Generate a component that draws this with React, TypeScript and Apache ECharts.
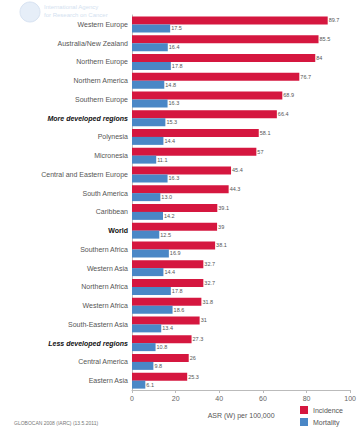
import React, { useEffect, useRef } from "react";
import * as echarts from "echarts";

const categories = [
  "Western Europe",
  "Australia/New Zealand",
  "Northern Europe",
  "Northern America",
  "Southern Europe",
  "More developed regions",
  "Polynesia",
  "Micronesia",
  "Central and Eastern Europe",
  "South America",
  "Caribbean",
  "World",
  "Southern Africa",
  "Western Asia",
  "Northern Africa",
  "Western Africa",
  "South-Eastern Asia",
  "Less developed regions",
  "Central America",
  "Eastern Asia",
];
const incidence = [89.7, 85.5, 84, 76.7, 68.9, 66.4, 58.1, 57, 45.4, 44.3, 39.1, 39, 38.1, 32.7, 32.7, 31.8, 31, 27.3, 26, 25.3];
const mortality = [17.5, 16.4, 17.8, 14.8, 16.3, 15.3, 14.4, 11.1, 16.3, 13.0, 14.2, 12.5, 16.9, 14.4, 17.8, 18.6, 13.4, 10.8, 9.8, 6.1];
const xTicks = [0, 20, 40, 60, 80, 100];

const boldItalic = ["More developed regions", "Less developed regions"];
const bold = ["World"];

export default function App() {
  const ref = useRef<HTMLDivElement>(null);
  useEffect(() => {
    if (!ref.current) return;
    const chart = echarts.init(ref.current, null, { renderer: "svg" });
    const font = "Liberation Sans, Arial, sans-serif";
    chart.setOption({
      animation: false,
      textStyle: { fontFamily: font },
      grid: { left: 132, right: 7, top: 15, bottom: 45, containLabel: false },
      legend: {
        data: ["Incidence", "Mortality"],
        orient: "vertical",
        left: 300,
        top: 406,
        padding: 0,
        itemWidth: 8,
        itemHeight: 8,
        itemGap: 4,
        icon: "rect",
        textStyle: { fontSize: 7, color: "#555", fontFamily: font },
      },
      xAxis: {
        type: "value",
        min: xTicks[0],
        max: xTicks[xTicks.length - 1],
        interval: 20,
        name: "ASR (W) per 100,000",
        nameLocation: "middle",
        nameGap: 22,
        nameTextStyle: { fontSize: 7, color: "#555" },
        axisLine: { show: true, lineStyle: { color: "#bbb" } },
        axisTick: { show: true, length: 3, lineStyle: { color: "#bbb" } },
        axisLabel: { fontSize: 7, color: "#666", margin: 5 },
        splitLine: { show: false },
      },
      yAxis: {
        type: "category",
        data: categories,
        inverse: true,
        axisLine: { show: true, lineStyle: { color: "#bbb" } },
        axisTick: { show: false },
        axisLabel: {
          fontSize: 7,
          color: "#555",
          margin: 4,
          formatter: (v: string) =>
            boldItalic.includes(v) ? `{bi|${v}}` : bold.includes(v) ? `{b|${v}}` : v,
          rich: {
            bi: { fontSize: 7, fontWeight: "bold", fontStyle: "italic", color: "#111" },
            b: { fontSize: 7, fontWeight: "bold", color: "#111" },
          },
        },
      },
      series: [
        {
          name: "Incidence",
          type: "bar",
          data: incidence,
          barWidth: 8,
          barGap: "0%",
          itemStyle: { color: "#d5173f" },
          label: {
            show: true,
            position: "right",
            distance: 1,
            fontSize: 5.5,
            color: "#555",
            formatter: (p: any) => String(p.value),
          },
        },
        {
          name: "Mortality",
          type: "bar",
          data: mortality,
          barWidth: 8,
          itemStyle: { color: "#4a87c6" },
          label: {
            show: true,
            position: "right",
            distance: 1,
            fontSize: 5.5,
            color: "#555",
            formatter: (p: any) => p.value.toFixed(1),
          },
        },
      ],
      graphic: [
        {
          type: "circle",
          shape: { cx: 30, cy: 12, r: 10 },
          style: { fill: "#e6eef8", stroke: "#d8e3f2", lineWidth: 1 },
          silent: true,
        },
        {
          type: "text",
          left: 44,
          top: 3,
          style: {
            text: "International Agency\nfor Research on Cancer",
            fontSize: 6,
            fill: "#d3dff0",
            fontFamily: font,
            lineHeight: 8,
          },
        },
        {
          type: "text",
          left: 14,
          top: 420,
          style: { text: "GLOBOCAN 2008 (IARC) (13.5.2011)", fontSize: 5, fill: "#777", fontFamily: font },
        },
      ],
    });
    return () => chart.dispose();
  }, []);
  return <div ref={ref} style={{ width: 359, height: 435, position: "absolute", left: 0, top: 0 }} />;
}
